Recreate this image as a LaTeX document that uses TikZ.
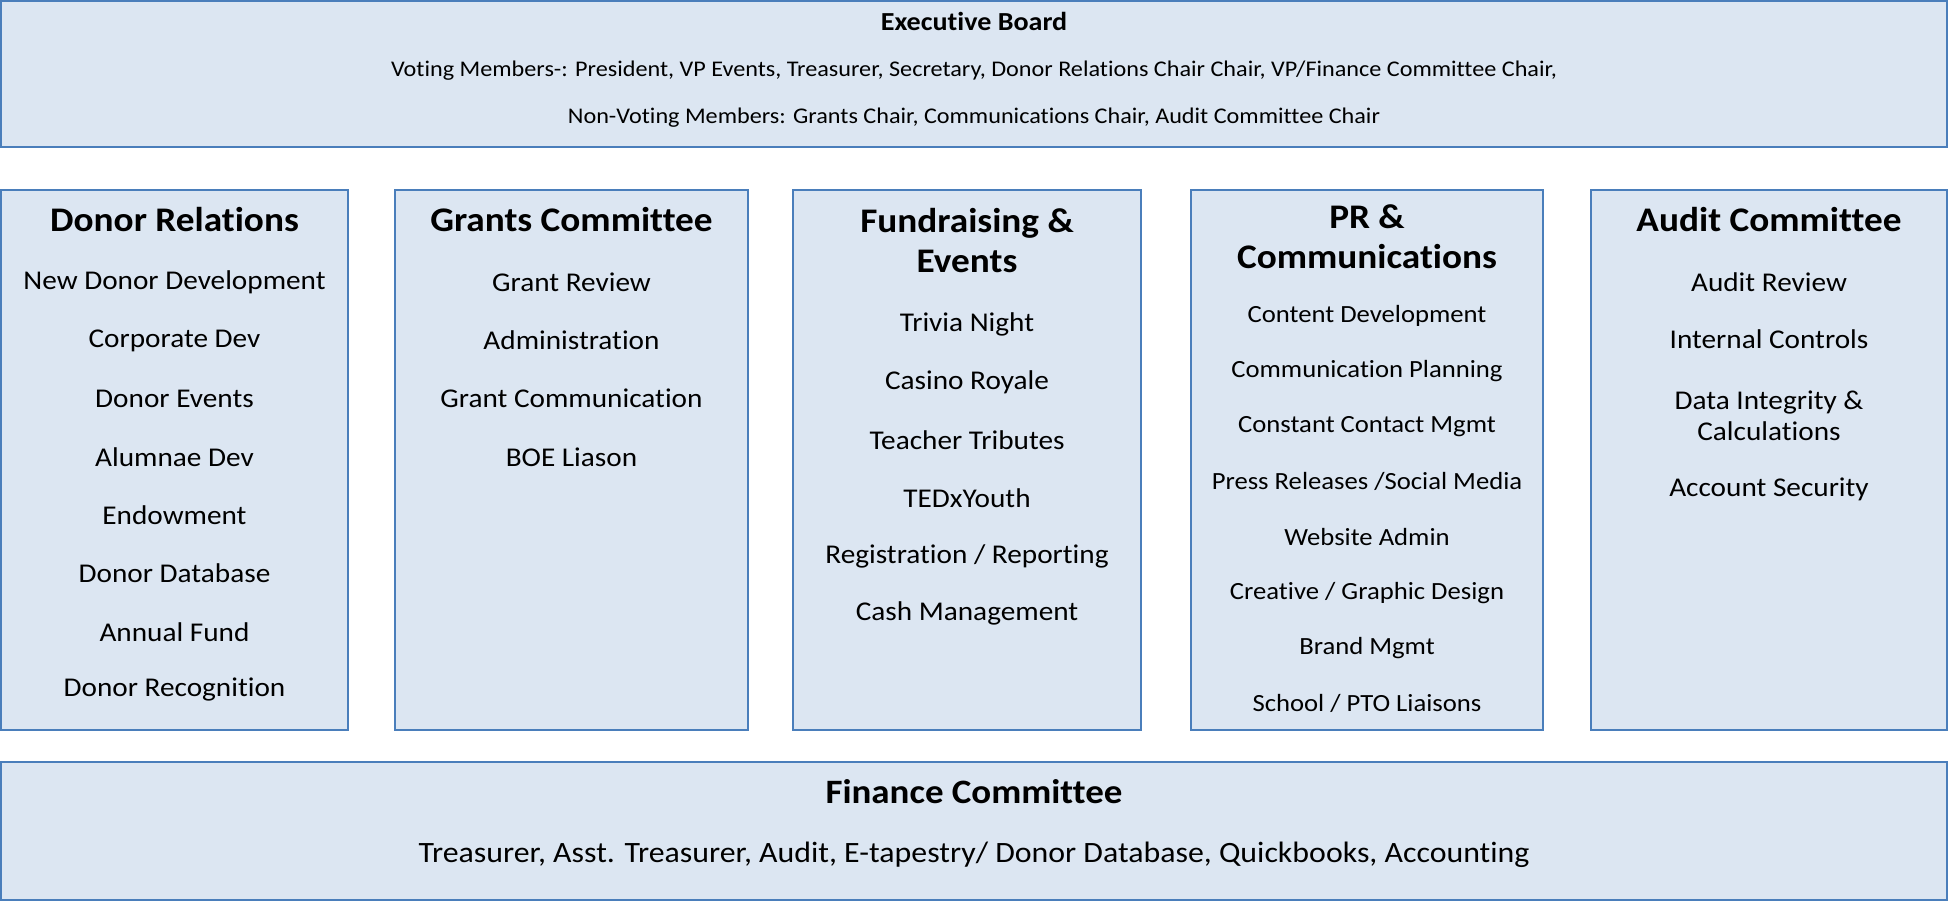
\documentclass[tikz,border=0pt]{standalone}
\usepackage{fontspec}
\setmainfont{Carlito}[FakeStretch=1.08, Ligatures={NoCommon}]
\usetikzlibrary{positioning}
\definecolor{boxfill}{HTML}{DCE6F2}
\definecolor{boxline}{HTML}{4A7EBB}
\tikzset{
  unit/.style={draw=boxline, fill=boxfill, line width=1.5pt, inner sep=0pt},
  head/.style={font=\fontsize{34.5}{40}\selectfont\bfseries, align=center},
  item/.style={font=\fontsize{27.1}{31}\selectfont, align=center},
  small item/.style={font=\fontsize{24.7}{28}\selectfont, align=center},
  board/.style={font=\fontsize{22.4}{26}\selectfont, align=center}
}
\begin{document}
\begin{tikzpicture}[x=1pt, y=-1pt]
\useasboundingbox (0,0) rectangle (1949,901);
% boxes
\node[unit, minimum width=1946, minimum height=146] (exec) at (974,74) {};
\node[unit, minimum width=347, minimum height=540] (donor) at (174.5,460) {};
\node[unit, minimum width=353, minimum height=540] (grants) at (571.5,460) {};
\node[unit, minimum width=348, minimum height=540] (fund) at (967,460) {};
\node[unit, minimum width=352, minimum height=540] (pr) at (1367,460) {};
\node[unit, minimum width=356, minimum height=540] (audit) at (1769,460) {};
\node[unit, minimum width=1946, minimum height=138] (finance) at (974,831) {};
% executive board
\node[board, font=\fontsize{26}{30}\selectfont\bfseries] (execT) at (974,21) {Executive Board};
\node[board] (execV) at (974,71) {Voting Members-: President, VP Events, Treasurer, Secretary, Donor Relations Chair Chair, VP/Finance Committee Chair,};
\node[board] (execN) at (974,118) {Non-Voting Members: Grants Chair, Communications Chair, Audit Committee Chair};
% columns
\node[head] (donorT) at (174.5,220) {Donor Relations};
\foreach \t [count=\i] in {New Donor Development, Corporate Dev, Donor Events, Alumnae Dev, Endowment, Donor Database, Annual Fund, Donor Recognition}
  \node[item] (donor\i) at (174.5,{282.2+58.25*(\i-1)}) {\t};
\node[head] (grantsT) at (571.5,220) {Grants Committee};
\foreach \t [count=\i] in {Grant Review, Administration, Grant Communication, BOE Liason}
  \node[item] (grants\i) at (571.5,{282.2+58.25*(\i-1)}) {\t};
\node[head] (fundT) at (967,240.5) {Fundraising \&\\Events};
\foreach \t [count=\i] in {Trivia Night, Casino Royale, Teacher Tributes, TEDxYouth, Registration / Reporting, Cash Management}
  \node[item] (fund\i) at (967,{324.4+57.9*(\i-1)}) {\t};
\node[head] (prT) at (1367,237) {PR \&\\Communications};
\foreach \t [count=\i] in {Content Development, Communication Planning, Constant Contact Mgmt, Press Releases /Social Media, Website Admin, Creative / Graphic Design, Brand Mgmt, School / PTO Liaisons}
  \node[small item] (pr\i) at (1367,{315.7+55.4*(\i-1)}) {\t};
\node[head] (auditT) at (1769,220) {Audit Committee};
\node[item] (audit1) at (1769,282) {Audit Review};
\node[item] (audit2) at (1769,339.5) {Internal Controls};
\node[item] (audit3) at (1769,415.8) {Data Integrity \&\\Calculations};
\node[item] (audit4) at (1769,489.7) {Account Security};
% finance
\node[head, font=\fontsize{34.2}{40}\selectfont\bfseries] (financeT) at (974,792) {Finance Committee};
\node[item, font=\fontsize{29.5}{34}\selectfont] (financeL) at (974,855) {Treasurer, Asst. Treasurer, Audit, E-tapestry/ Donor Database, Quickbooks, Accounting};
\end{tikzpicture}
\end{document}
